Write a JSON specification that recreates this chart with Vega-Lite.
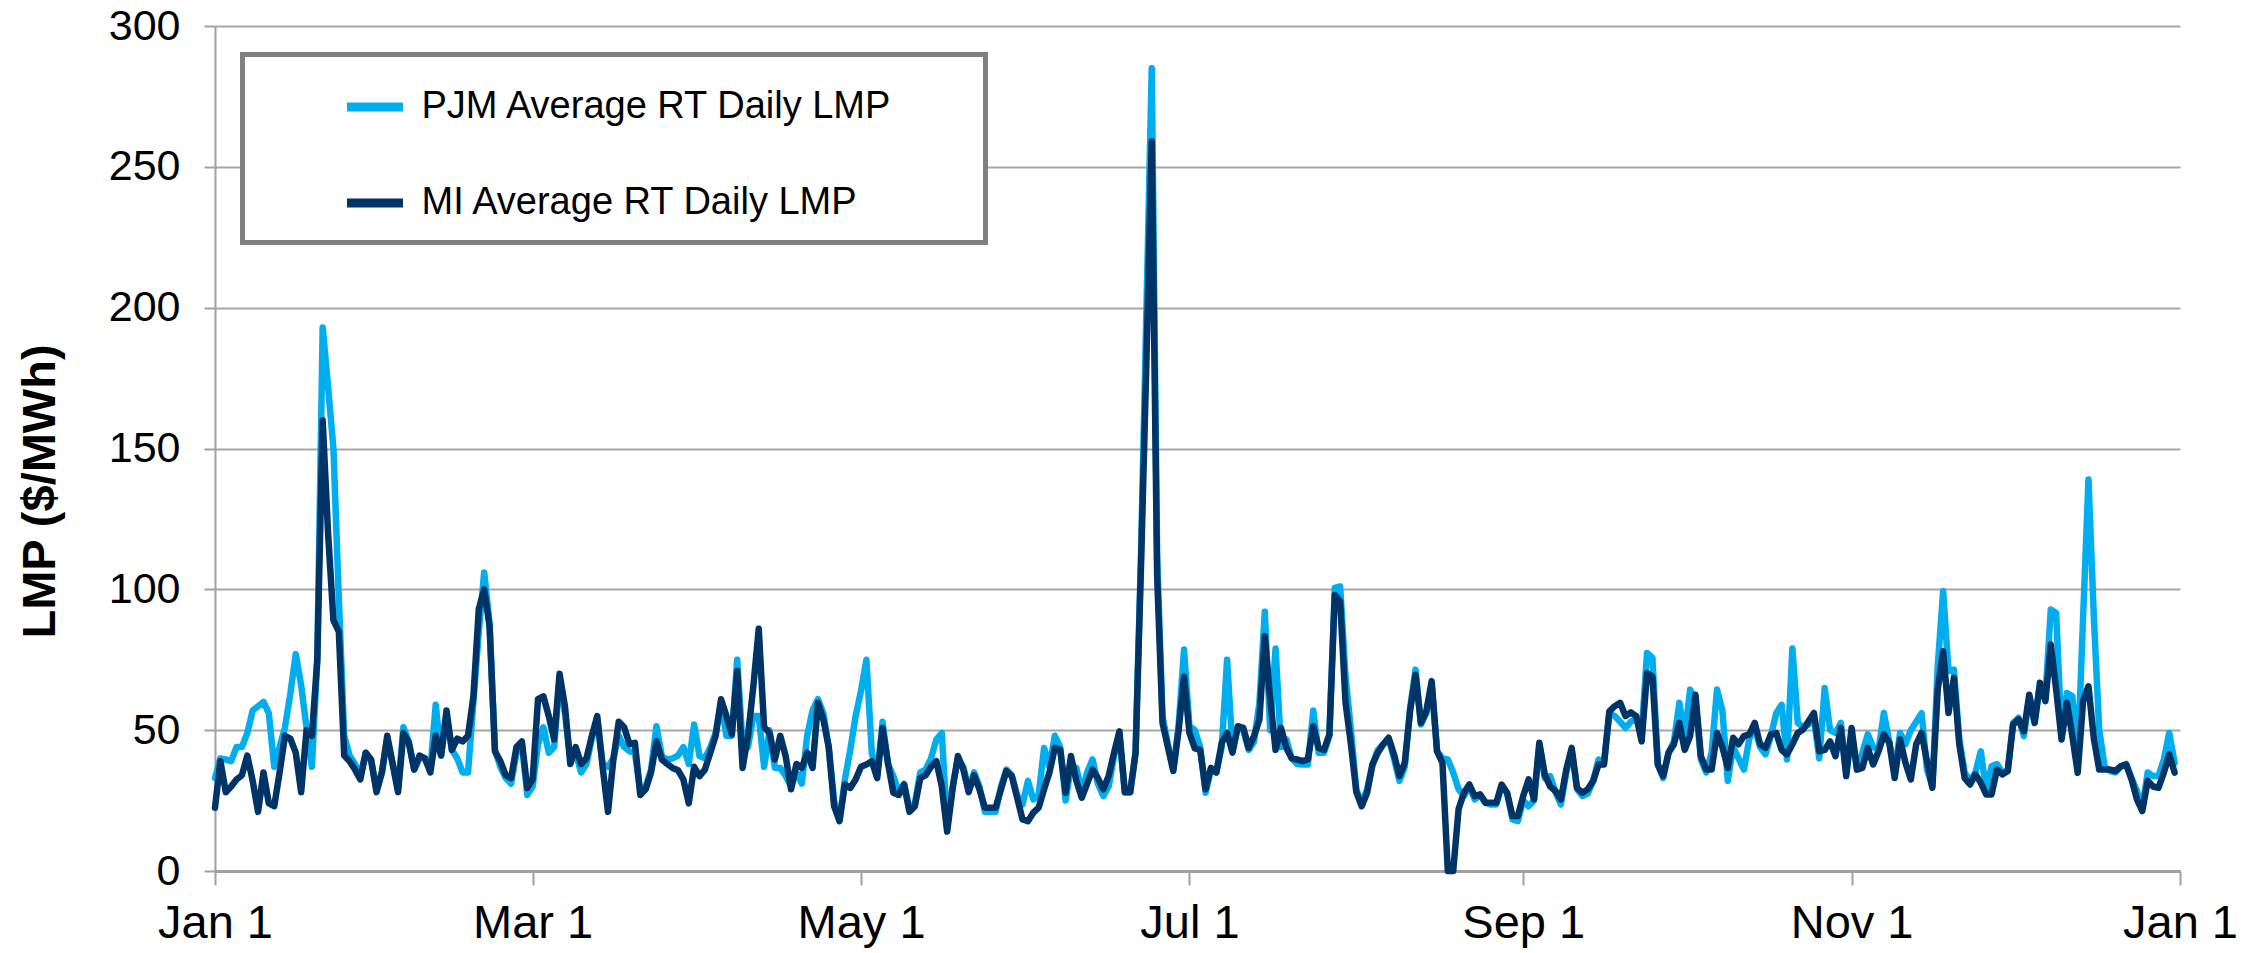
{
"$schema": "https://vega.github.io/schema/vega-lite/v6.json",
"width": 1965, "height": 845,
"autosize": "none",
"padding": {"left": 215, "top": 26, "right": 70, "bottom": 82},
"background": "white",
"data": {"values": [
{"date":"2025-01-01","PJM":33,"MI":22.5},{"date":"2025-01-02","PJM":40,"MI":39},{"date":"2025-01-03","PJM":39.6,"MI":28},{"date":"2025-01-04","PJM":39,"MI":30},{"date":"2025-01-05","PJM":44,"MI":32.5},{"date":"2025-01-06","PJM":44,"MI":34},{"date":"2025-01-07","PJM":49,"MI":41},{"date":"2025-01-08","PJM":57,"MI":32},{"date":"2025-01-09","PJM":58.5,"MI":21},{"date":"2025-01-10","PJM":60,"MI":35},{"date":"2025-01-11","PJM":56,"MI":24},{"date":"2025-01-12","PJM":37,"MI":23},{"date":"2025-01-13","PJM":44,"MI":35},{"date":"2025-01-14","PJM":51,"MI":48},{"date":"2025-01-15","PJM":63,"MI":47},{"date":"2025-01-16","PJM":77,"MI":42},{"date":"2025-01-17","PJM":66,"MI":28},{"date":"2025-01-18","PJM":51,"MI":50},{"date":"2025-01-19","PJM":37,"MI":48},{"date":"2025-01-20","PJM":75,"MI":75},{"date":"2025-01-21","PJM":193,"MI":160},{"date":"2025-01-22","PJM":172,"MI":120},{"date":"2025-01-23","PJM":150,"MI":89},{"date":"2025-01-24","PJM":97,"MI":85},{"date":"2025-01-25","PJM":48,"MI":41},{"date":"2025-01-26","PJM":41,"MI":39},{"date":"2025-01-27","PJM":38,"MI":36},{"date":"2025-01-28","PJM":34,"MI":32.5},{"date":"2025-01-29","PJM":42,"MI":42},{"date":"2025-01-30","PJM":39,"MI":39.6},{"date":"2025-01-31","PJM":29,"MI":28},
{"date":"2025-02-01","PJM":35,"MI":35},{"date":"2025-02-02","PJM":47,"MI":48},{"date":"2025-02-03","PJM":38,"MI":38},{"date":"2025-02-04","PJM":29,"MI":28},{"date":"2025-02-05","PJM":51,"MI":49},{"date":"2025-02-06","PJM":46,"MI":45.5},{"date":"2025-02-07","PJM":36,"MI":36},{"date":"2025-02-08","PJM":40,"MI":41},{"date":"2025-02-09","PJM":40,"MI":40},{"date":"2025-02-10","PJM":36,"MI":35},{"date":"2025-02-11","PJM":59,"MI":48},{"date":"2025-02-12","PJM":41,"MI":41},{"date":"2025-02-13","PJM":55,"MI":57},{"date":"2025-02-14","PJM":43,"MI":43},{"date":"2025-02-15","PJM":40,"MI":47},{"date":"2025-02-16","PJM":35,"MI":46},{"date":"2025-02-17","PJM":35,"MI":48},{"date":"2025-02-18","PJM":60,"MI":62},{"date":"2025-02-19","PJM":85,"MI":93},{"date":"2025-02-20","PJM":106,"MI":100},{"date":"2025-02-21","PJM":88,"MI":87},{"date":"2025-02-22","PJM":43,"MI":42.5},{"date":"2025-02-23","PJM":37,"MI":39},{"date":"2025-02-24","PJM":33,"MI":34},{"date":"2025-02-25","PJM":31,"MI":33},{"date":"2025-02-26","PJM":42,"MI":44},{"date":"2025-02-27","PJM":45,"MI":46},{"date":"2025-02-28","PJM":27,"MI":29.5},
{"date":"2025-03-01","PJM":30,"MI":32.5},{"date":"2025-03-02","PJM":45,"MI":61},{"date":"2025-03-03","PJM":51,"MI":62},{"date":"2025-03-04","PJM":42,"MI":55},{"date":"2025-03-05","PJM":44,"MI":46.7},{"date":"2025-03-06","PJM":68,"MI":70},{"date":"2025-03-07","PJM":56,"MI":58.5},{"date":"2025-03-08","PJM":40,"MI":38},{"date":"2025-03-09","PJM":42,"MI":44},{"date":"2025-03-10","PJM":35,"MI":38},{"date":"2025-03-11","PJM":38,"MI":40},{"date":"2025-03-12","PJM":47,"MI":48},{"date":"2025-03-13","PJM":54,"MI":55},{"date":"2025-03-14","PJM":38,"MI":37},{"date":"2025-03-15","PJM":37,"MI":21},{"date":"2025-03-16","PJM":40,"MI":39.6},{"date":"2025-03-17","PJM":48,"MI":53},{"date":"2025-03-18","PJM":44,"MI":51},{"date":"2025-03-19","PJM":42.5,"MI":45},{"date":"2025-03-20","PJM":42,"MI":45.5},{"date":"2025-03-21","PJM":28,"MI":27},{"date":"2025-03-22","PJM":30,"MI":29},{"date":"2025-03-23","PJM":36,"MI":35},{"date":"2025-03-24","PJM":51.4,"MI":46},{"date":"2025-03-25","PJM":40.8,"MI":39.6},{"date":"2025-03-26","PJM":39.6,"MI":38},{"date":"2025-03-27","PJM":40,"MI":36.6},{"date":"2025-03-28","PJM":41,"MI":35.8},{"date":"2025-03-29","PJM":44,"MI":32.5},{"date":"2025-03-30","PJM":38,"MI":24},{"date":"2025-03-31","PJM":52,"MI":37},
{"date":"2025-04-01","PJM":40.8,"MI":33.7},{"date":"2025-04-02","PJM":40,"MI":36},{"date":"2025-04-03","PJM":44,"MI":42},{"date":"2025-04-04","PJM":49,"MI":48},{"date":"2025-04-05","PJM":60,"MI":61},{"date":"2025-04-06","PJM":48,"MI":55},{"date":"2025-04-07","PJM":48,"MI":48.5},{"date":"2025-04-08","PJM":75,"MI":71},{"date":"2025-04-09","PJM":45,"MI":36.6},{"date":"2025-04-10","PJM":44,"MI":48},{"date":"2025-04-11","PJM":55,"MI":65.6},{"date":"2025-04-12","PJM":55,"MI":86},{"date":"2025-04-13","PJM":37,"MI":51},{"date":"2025-04-14","PJM":50,"MI":49},{"date":"2025-04-15","PJM":36.6,"MI":39.6},{"date":"2025-04-16","PJM":36.6,"MI":48},{"date":"2025-04-17","PJM":33.7,"MI":40.8},{"date":"2025-04-18","PJM":30,"MI":29},{"date":"2025-04-19","PJM":35,"MI":38},{"date":"2025-04-20","PJM":31,"MI":36.6},{"date":"2025-04-21","PJM":48,"MI":42},{"date":"2025-04-22","PJM":57,"MI":36.6},{"date":"2025-04-23","PJM":61,"MI":59.7},{"date":"2025-04-24","PJM":56,"MI":53.8},{"date":"2025-04-25","PJM":44,"MI":44},{"date":"2025-04-26","PJM":25,"MI":23},{"date":"2025-04-27","PJM":18,"MI":17.7},{"date":"2025-04-28","PJM":32.5,"MI":30.7},{"date":"2025-04-29","PJM":43,"MI":29.5},{"date":"2025-04-30","PJM":55,"MI":32.5},
{"date":"2025-05-01","PJM":64,"MI":37},{"date":"2025-05-02","PJM":75,"MI":37.8},{"date":"2025-05-03","PJM":42,"MI":39},{"date":"2025-05-04","PJM":34,"MI":33},{"date":"2025-05-05","PJM":53,"MI":50.8},{"date":"2025-05-06","PJM":38,"MI":38.4},{"date":"2025-05-07","PJM":33.7,"MI":27.8},{"date":"2025-05-08","PJM":28,"MI":27},{"date":"2025-05-09","PJM":31,"MI":30.7},{"date":"2025-05-10","PJM":22,"MI":21},{"date":"2025-05-11","PJM":24,"MI":23},{"date":"2025-05-12","PJM":35,"MI":33},{"date":"2025-05-13","PJM":36,"MI":34},{"date":"2025-05-14","PJM":40,"MI":37},{"date":"2025-05-15","PJM":46.7,"MI":39},{"date":"2025-05-16","PJM":49,"MI":30},{"date":"2025-05-17","PJM":16,"MI":14},{"date":"2025-05-18","PJM":30,"MI":29},{"date":"2025-05-19","PJM":40,"MI":40.8},{"date":"2025-05-20","PJM":37,"MI":36},{"date":"2025-05-21","PJM":29,"MI":28},{"date":"2025-05-22","PJM":35,"MI":34},{"date":"2025-05-23","PJM":30,"MI":29},{"date":"2025-05-24","PJM":21,"MI":22.5},{"date":"2025-05-25","PJM":21,"MI":22.5},{"date":"2025-05-26","PJM":21,"MI":22.5},{"date":"2025-05-27","PJM":30,"MI":29},{"date":"2025-05-28","PJM":36,"MI":35.5},{"date":"2025-05-29","PJM":34,"MI":33.7},{"date":"2025-05-30","PJM":27,"MI":26},{"date":"2025-05-31","PJM":23.6,"MI":18.3},
{"date":"2025-06-01","PJM":32,"MI":17.7},{"date":"2025-06-02","PJM":25.4,"MI":20.7},{"date":"2025-06-03","PJM":27,"MI":22.5},{"date":"2025-06-04","PJM":43.7,"MI":29},{"date":"2025-06-05","PJM":37,"MI":35},{"date":"2025-06-06","PJM":48,"MI":43.7},{"date":"2025-06-07","PJM":44,"MI":43},{"date":"2025-06-08","PJM":25,"MI":27.8},{"date":"2025-06-09","PJM":37,"MI":40.8},{"date":"2025-06-10","PJM":36.6,"MI":32},{"date":"2025-06-11","PJM":27.8,"MI":26},{"date":"2025-06-12","PJM":35,"MI":31},{"date":"2025-06-13","PJM":39.6,"MI":36},{"date":"2025-06-14","PJM":31,"MI":33},{"date":"2025-06-15","PJM":26.6,"MI":29},{"date":"2025-06-16","PJM":30,"MI":33.7},{"date":"2025-06-17","PJM":41,"MI":42},{"date":"2025-06-18","PJM":48,"MI":49.6},{"date":"2025-06-19","PJM":28,"MI":28},{"date":"2025-06-20","PJM":28,"MI":28},{"date":"2025-06-21","PJM":42,"MI":42},{"date":"2025-06-22","PJM":112,"MI":108},{"date":"2025-06-23","PJM":198,"MI":180},{"date":"2025-06-24","PJM":285,"MI":259},{"date":"2025-06-25","PJM":112,"MI":105},{"date":"2025-06-26","PJM":55,"MI":52.6},{"date":"2025-06-27","PJM":45,"MI":44},{"date":"2025-06-28","PJM":36,"MI":35.5},{"date":"2025-06-29","PJM":52,"MI":50},{"date":"2025-06-30","PJM":78.6,"MI":69},
{"date":"2025-07-01","PJM":51.4,"MI":49},{"date":"2025-07-02","PJM":50,"MI":43.5},{"date":"2025-07-03","PJM":44,"MI":43},{"date":"2025-07-04","PJM":27.8,"MI":29},{"date":"2025-07-05","PJM":36,"MI":36.6},{"date":"2025-07-06","PJM":35,"MI":35},{"date":"2025-07-07","PJM":44,"MI":45.5},{"date":"2025-07-08","PJM":75,"MI":49},{"date":"2025-07-09","PJM":43,"MI":42},{"date":"2025-07-10","PJM":51,"MI":51.4},{"date":"2025-07-11","PJM":50,"MI":50.8},{"date":"2025-07-12","PJM":43,"MI":43.7},{"date":"2025-07-13","PJM":46,"MI":47.9},{"date":"2025-07-14","PJM":59.7,"MI":53.8},{"date":"2025-07-15","PJM":92,"MI":83.3},{"date":"2025-07-16","PJM":50,"MI":61},{"date":"2025-07-17","PJM":79,"MI":43},{"date":"2025-07-18","PJM":44,"MI":50.8},{"date":"2025-07-19","PJM":46.7,"MI":43.7},{"date":"2025-07-20","PJM":40,"MI":40},{"date":"2025-07-21","PJM":38,"MI":39.6},{"date":"2025-07-22","PJM":37.8,"MI":39},{"date":"2025-07-23","PJM":37.8,"MI":39.6},{"date":"2025-07-24","PJM":57,"MI":51.4},{"date":"2025-07-25","PJM":42,"MI":43.7},{"date":"2025-07-26","PJM":42,"MI":43},{"date":"2025-07-27","PJM":48,"MI":48.5},{"date":"2025-07-28","PJM":100.5,"MI":98},{"date":"2025-07-29","PJM":101,"MI":95.7},{"date":"2025-07-30","PJM":69,"MI":59.7},{"date":"2025-07-31","PJM":50,"MI":45},
{"date":"2025-08-01","PJM":29,"MI":28},{"date":"2025-08-02","PJM":24,"MI":23},{"date":"2025-08-03","PJM":29,"MI":27.8},{"date":"2025-08-04","PJM":37.8,"MI":37.8},{"date":"2025-08-05","PJM":43,"MI":42},{"date":"2025-08-06","PJM":45,"MI":45},{"date":"2025-08-07","PJM":47,"MI":47.3},{"date":"2025-08-08","PJM":40,"MI":41.4},{"date":"2025-08-09","PJM":32,"MI":33.7},{"date":"2025-08-10","PJM":37,"MI":38.4},{"date":"2025-08-11","PJM":58,"MI":57},{"date":"2025-08-12","PJM":71.5,"MI":69.7},{"date":"2025-08-13","PJM":52,"MI":52.6},{"date":"2025-08-14","PJM":56,"MI":56.7},{"date":"2025-08-15","PJM":66,"MI":67.4},{"date":"2025-08-16","PJM":42.5,"MI":42.5},{"date":"2025-08-17","PJM":40,"MI":38.4},{"date":"2025-08-18","PJM":39.6,"MI":0},{"date":"2025-08-19","PJM":35,"MI":0},{"date":"2025-08-20","PJM":29,"MI":22},{"date":"2025-08-21","PJM":26.6,"MI":27.8},{"date":"2025-08-22","PJM":30,"MI":30.7},{"date":"2025-08-23","PJM":25.4,"MI":26.6},{"date":"2025-08-24","PJM":27,"MI":27.2},{"date":"2025-08-25","PJM":24.2,"MI":24.2},{"date":"2025-08-26","PJM":23.6,"MI":24.2},{"date":"2025-08-27","PJM":23.6,"MI":24.2},{"date":"2025-08-28","PJM":30,"MI":30.7},{"date":"2025-08-29","PJM":27.8,"MI":27.8},{"date":"2025-08-30","PJM":18.3,"MI":19.5},{"date":"2025-08-31","PJM":17.7,"MI":19.5},
{"date":"2025-09-01","PJM":25,"MI":26.6},{"date":"2025-09-02","PJM":23,"MI":32.5},{"date":"2025-09-03","PJM":25,"MI":25.4},{"date":"2025-09-04","PJM":45,"MI":45.5},{"date":"2025-09-05","PJM":33,"MI":34.3},{"date":"2025-09-06","PJM":33.7,"MI":30},{"date":"2025-09-07","PJM":28,"MI":28.4},{"date":"2025-09-08","PJM":23.6,"MI":25.4},{"date":"2025-09-09","PJM":35,"MI":36},{"date":"2025-09-10","PJM":43,"MI":43.7},{"date":"2025-09-11","PJM":29,"MI":29.5},{"date":"2025-09-12","PJM":26.6,"MI":27.8},{"date":"2025-09-13","PJM":27.5,"MI":29},{"date":"2025-09-14","PJM":32,"MI":32},{"date":"2025-09-15","PJM":39.6,"MI":37.8},{"date":"2025-09-16","PJM":38,"MI":37.8},{"date":"2025-09-17","PJM":56,"MI":56.7},{"date":"2025-09-18","PJM":55,"MI":58.5},{"date":"2025-09-19","PJM":53,"MI":59.7},{"date":"2025-09-20","PJM":50.8,"MI":55},{"date":"2025-09-21","PJM":53,"MI":56.3},{"date":"2025-09-22","PJM":54,"MI":55},{"date":"2025-09-23","PJM":49,"MI":46},{"date":"2025-09-24","PJM":77.4,"MI":70.3},{"date":"2025-09-25","PJM":75.7,"MI":69},{"date":"2025-09-26","PJM":38,"MI":37.8},{"date":"2025-09-27","PJM":33,"MI":33.7},{"date":"2025-09-28","PJM":42,"MI":42},{"date":"2025-09-29","PJM":46,"MI":45},{"date":"2025-09-30","PJM":59.7,"MI":52.6},
{"date":"2025-10-01","PJM":48,"MI":43},{"date":"2025-10-02","PJM":64.4,"MI":47.9},{"date":"2025-10-03","PJM":61,"MI":62.6},{"date":"2025-10-04","PJM":39.6,"MI":40.8},{"date":"2025-10-05","PJM":35,"MI":36},{"date":"2025-10-06","PJM":42,"MI":36},{"date":"2025-10-07","PJM":64.4,"MI":49},{"date":"2025-10-08","PJM":57,"MI":44},{"date":"2025-10-09","PJM":32,"MI":36.6},{"date":"2025-10-10","PJM":44,"MI":47.3},{"date":"2025-10-11","PJM":40,"MI":45},{"date":"2025-10-12","PJM":36,"MI":47.9},{"date":"2025-10-13","PJM":47,"MI":48.5},{"date":"2025-10-14","PJM":51,"MI":52.6},{"date":"2025-10-15","PJM":44,"MI":45},{"date":"2025-10-16","PJM":41.4,"MI":43.7},{"date":"2025-10-17","PJM":48,"MI":48.5},{"date":"2025-10-18","PJM":56,"MI":49},{"date":"2025-10-19","PJM":59,"MI":43},{"date":"2025-10-20","PJM":39.6,"MI":41.4},{"date":"2025-10-21","PJM":79,"MI":45},{"date":"2025-10-22","PJM":52.6,"MI":49},{"date":"2025-10-23","PJM":51,"MI":50.2},{"date":"2025-10-24","PJM":52,"MI":53.2},{"date":"2025-10-25","PJM":54,"MI":56.1},{"date":"2025-10-26","PJM":40,"MI":42.5},{"date":"2025-10-27","PJM":65,"MI":43},{"date":"2025-10-28","PJM":50,"MI":46},{"date":"2025-10-29","PJM":49,"MI":40.8},{"date":"2025-10-30","PJM":52.6,"MI":50.8},{"date":"2025-10-31","PJM":35,"MI":33.7},
{"date":"2025-11-01","PJM":49,"MI":50.8},{"date":"2025-11-02","PJM":36,"MI":36},{"date":"2025-11-03","PJM":42,"MI":36.6},{"date":"2025-11-04","PJM":48.5,"MI":43.7},{"date":"2025-11-05","PJM":44,"MI":37.8},{"date":"2025-11-06","PJM":43,"MI":42.5},{"date":"2025-11-07","PJM":56.1,"MI":48.5},{"date":"2025-11-08","PJM":46,"MI":45.5},{"date":"2025-11-09","PJM":35,"MI":33},{"date":"2025-11-10","PJM":49,"MI":46.7},{"date":"2025-11-11","PJM":45,"MI":38.4},{"date":"2025-11-12","PJM":50,"MI":32.5},{"date":"2025-11-13","PJM":53,"MI":45},{"date":"2025-11-14","PJM":56,"MI":49},{"date":"2025-11-15","PJM":36,"MI":39},{"date":"2025-11-16","PJM":30,"MI":29.5},{"date":"2025-11-17","PJM":72.7,"MI":64.4},{"date":"2025-11-18","PJM":99.3,"MI":78},{"date":"2025-11-19","PJM":71,"MI":56.1},{"date":"2025-11-20","PJM":71.5,"MI":68.6},{"date":"2025-11-21","PJM":47,"MI":45},{"date":"2025-11-22","PJM":35,"MI":33},{"date":"2025-11-23","PJM":32,"MI":30.7},{"date":"2025-11-24","PJM":35,"MI":34.3},{"date":"2025-11-25","PJM":42.5,"MI":31.3},{"date":"2025-11-26","PJM":28.4,"MI":27.2},{"date":"2025-11-27","PJM":37.2,"MI":27.2},{"date":"2025-11-28","PJM":38,"MI":36},{"date":"2025-11-29","PJM":35,"MI":34.3},{"date":"2025-11-30","PJM":35.5,"MI":35.5},
{"date":"2025-12-01","PJM":52.6,"MI":52},{"date":"2025-12-02","PJM":54.4,"MI":53.8},{"date":"2025-12-03","PJM":47.9,"MI":49.6},{"date":"2025-12-04","PJM":62,"MI":62.6},{"date":"2025-12-05","PJM":52.6,"MI":52.6},{"date":"2025-12-06","PJM":66.8,"MI":66.8},{"date":"2025-12-07","PJM":62,"MI":60.3},{"date":"2025-12-08","PJM":92.8,"MI":80.4},{"date":"2025-12-09","PJM":91.6,"MI":64.4},{"date":"2025-12-10","PJM":48,"MI":46.7},{"date":"2025-12-11","PJM":63.2,"MI":59.7},{"date":"2025-12-12","PJM":62,"MI":47.9},{"date":"2025-12-13","PJM":40,"MI":34.9},{"date":"2025-12-14","PJM":90,"MI":60.3},{"date":"2025-12-15","PJM":139,"MI":65.6},{"date":"2025-12-16","PJM":90,"MI":47},{"date":"2025-12-17","PJM":50,"MI":36},{"date":"2025-12-18","PJM":37,"MI":36},{"date":"2025-12-19","PJM":35.5,"MI":36},{"date":"2025-12-20","PJM":35,"MI":35.5},{"date":"2025-12-21","PJM":37,"MI":37.2},{"date":"2025-12-22","PJM":38,"MI":37.8},{"date":"2025-12-23","PJM":33,"MI":32.5},{"date":"2025-12-24","PJM":28.4,"MI":25.4},{"date":"2025-12-25","PJM":22.5,"MI":21.3},{"date":"2025-12-26","PJM":35,"MI":32},{"date":"2025-12-27","PJM":33.7,"MI":30},{"date":"2025-12-28","PJM":33.7,"MI":29.5},{"date":"2025-12-29","PJM":39.6,"MI":34.9},{"date":"2025-12-30","PJM":49,"MI":41.4},{"date":"2025-12-31","PJM":38.4,"MI":34.9}
]},
"transform": [{"fold": ["PJM", "MI"], "as": ["series", "lmp"]}],
"mark": {"type": "line", "strokeWidth": 6.5, "strokeJoin": "round", "strokeCap": "round"},
"encoding": {
  "x": {"field": "date", "type": "temporal",
    "scale": {"type": "utc", "domain": [{"year": 2025, "month": 1, "date": 1, "utc": true}, {"year": 2026, "month": 1, "date": 1, "utc": true}]},
    "axis": {"title": null, "grid": false, "format": "%b %-d",
      "values": [{"year": 2025, "month": 1, "date": 1, "utc": true}, {"year": 2025, "month": 3, "date": 1, "utc": true}, {"year": 2025, "month": 5, "date": 1, "utc": true}, {"year": 2025, "month": 7, "date": 1, "utc": true}, {"year": 2025, "month": 9, "date": 1, "utc": true}, {"year": 2025, "month": 11, "date": 1, "utc": true}, {"year": 2026, "month": 1, "date": 1, "utc": true}],
      "labelFlush": false, "labelOverlap": false, "labelBound": false,
      "labelFontSize": 47, "labelPadding": 15, "labelColor": "#000000",
      "domainColor": "#a0a0a0", "domainWidth": 3, "tickColor": "#a0a0a0", "tickWidth": 2, "tickSize": 14}},
  "y": {"field": "lmp", "type": "quantitative",
    "scale": {"domain": [0, 300], "nice": false},
    "axis": {"title": "LMP ($/MWh)", "values": [0, 50, 100, 150, 200, 250, 300],
      "labelFontSize": 43, "labelPadding": 24, "labelColor": "#000000",
      "domainColor": "#a0a0a0", "domainWidth": 2, "tickColor": "#a0a0a0", "tickWidth": 2, "tickSize": 11,
      "gridColor": "#a6a6a6", "gridWidth": 2,
      "titleFontSize": 47, "titleFontWeight": "bold", "titleColor": "#000000",
      "titleX": -175, "titleY": 465, "titleAngle": -90, "titleAlign": "center", "titleBaseline": "middle"}},
  "color": {"field": "series", "type": "nominal",
    "scale": {"domain": ["PJM", "MI"], "range": ["#00AEEF", "#003366"]},
    "legend": {"title": null, "orient": "none", "legendX": 27.5, "legendY": 28.5,
      "labelExpr": "(datum.label == 'PJM' ? 'PJM Average RT Daily LMP' : 'MI Average RT Daily LMP') + '\u2003\u2002\u2009\u2009\u200b'",
      "symbolType": "stroke", "symbolStrokeWidth": 9, "symbolSize": 3136, "symbolOffset": 80,
      "labelFontSize": 38, "labelOffset": 14, "labelColor": "#000000", "labelLimit": 0,
      "padding": 20, "rowPadding": 44,
      "strokeColor": "#808080", "fillColor": "#ffffff"}}
},
"config": {
  "font": "Liberation Sans",
  "view": {"stroke": null},
  "legend": {"strokeWidth": 5}
}
}
